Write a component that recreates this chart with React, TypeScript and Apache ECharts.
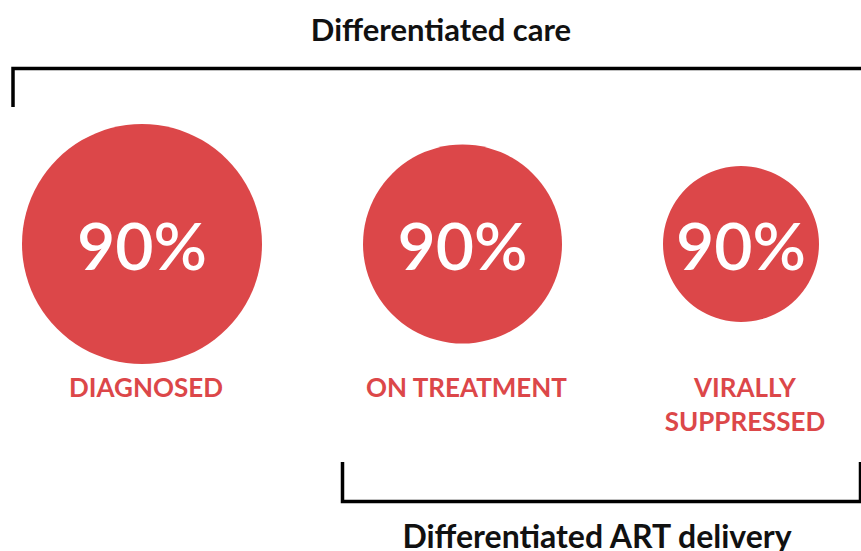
import React, { useEffect, useRef } from "react";
import * as echarts from "echarts";

// Stages of the cascade
const stages = ["DIAGNOSED", "ON TREATMENT", "VIRALLY\nSUPPRESSED"];
// Percentage shown inside each circle
const percentages = [90, 90, 90];
// Circle diameters (px)
const circleDiameters = [240, 199, 156];
// Bracket titles
const topTitle = "Differentiated care";
const bottomTitle = "Differentiated ART delivery";

const RED = "#DC4749";
const FONT = "Lato, 'Open Sans', sans-serif";

export default function App() {
  const ref = useRef<HTMLDivElement>(null);

  useEffect(() => {
    if (!ref.current) return;
    const chart = echarts.init(ref.current, undefined, { renderer: "svg" });

    // layout: circles placed left to right with an equal gap between them
    const startX = 22;
    const gap = 101;
    const centerY = 244;
    const labelY = 387;
    const centers: number[] = [];
    let cursor = startX;
    circleDiameters.forEach((d) => {
      centers.push(cursor + d / 2);
      cursor += d + gap;
    });

    const circleData = stages.map((s, i) => ({
      name: s,
      value: [centers[i], centerY, circleDiameters[i], percentages[i]],
    }));
    const labelData = stages.map((s, i) => ({
      name: s,
      value: [centers[i] + 4, labelY],
    }));

    chart.setOption({
      animation: false,
      grid: { left: 0, right: 0, top: 0, bottom: 0 },
      xAxis: { type: "value", min: 0, max: 861, show: false },
      yAxis: { type: "value", min: 0, max: 551, inverse: true, show: false },
      series: [
        {
          type: "scatter",
          data: circleData,
          symbol: "circle",
          symbolSize: (v: number[]) => v[2],
          itemStyle: { color: RED, opacity: 1 },
          emphasis: { disabled: true },
          label: {
            show: true,
            position: "inside",
            formatter: (p: any) => p.value[3] + "%",
            color: "#ffffff",
            fontFamily: FONT,
            fontWeight: 600,
            fontSize: 66,
          },
        },
        {
          type: "scatter",
          data: labelData,
          symbolSize: 1,
          itemStyle: { color: "rgba(0,0,0,0)", opacity: 1 },
          emphasis: { disabled: true },
          label: {
            show: true,
            position: "inside",
            formatter: (p: any) => p.name,
            color: RED,
            fontFamily: FONT,
            fontWeight: "bold",
            fontSize: 26,
            lineHeight: 34,
            verticalAlign: "top",
            offset: [0, -17],
            align: "center",
          },
        },
      ],
      graphic: [
        {
          type: "text",
          x: 441,
          y: 29,
          style: {
            text: topTitle,
            textAlign: "center",
            textVerticalAlign: "middle",
            fontFamily: FONT,
            fontWeight: "bold",
            fontSize: 31,
            fill: "#111111",
          },
        },
        {
          type: "text",
          x: 597,
          y: 535,
          style: {
            text: bottomTitle,
            textAlign: "center",
            textVerticalAlign: "middle",
            fontFamily: FONT,
            fontWeight: "bold",
            fontSize: 32,
            fill: "#111111",
          },
        },
        {
          type: "polyline",
          shape: { points: [[13, 107], [13, 68.5], [864, 68.5]] },
          style: { stroke: "#000000", lineWidth: 3.5, fill: null },
        },
        {
          type: "polyline",
          shape: { points: [[342.5, 462], [342.5, 501.5], [860.5, 501.5], [860.5, 462]] },
          style: { stroke: "#000000", lineWidth: 3.5, fill: null },
        },
      ],
    });

    return () => chart.dispose();
  }, []);

  return (
    <div
      ref={ref}
      style={{ position: "absolute", left: 0, top: 0, width: 861, height: 551 }}
    />
  );
}
